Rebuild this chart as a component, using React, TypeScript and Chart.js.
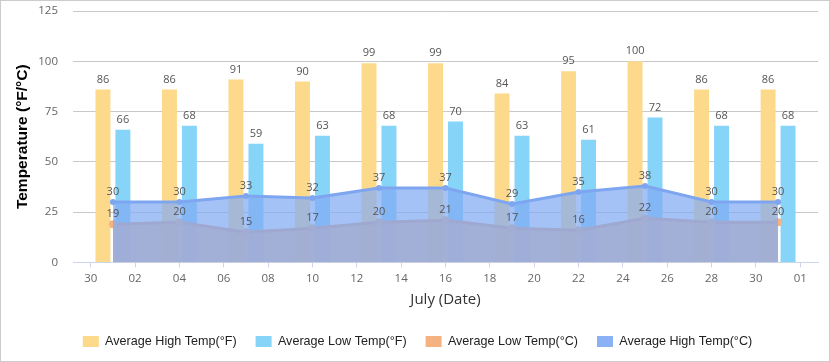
import React, { useEffect, useRef } from 'react';
import { Chart, registerables } from 'chart.js';

Chart.register(...registerables);

// ---- data ----
const days = [1, 4, 7, 10, 13, 16, 19, 22, 25, 28, 31];
const highF = [86, 86, 91, 90, 99, 99, 84, 95, 100, 86, 86];
const lowF = [66, 68, 59, 63, 68, 70, 63, 61, 72, 68, 68];
const lowC = [19, 20, 15, 17, 20, 21, 17, 16, 22, 20, 20];
const highC = [30, 30, 33, 32, 37, 37, 29, 35, 38, 30, 30];

const seriesLabels = [
  'Average High Temp(°F)',
  'Average Low Temp(°F)',
  'Average Low Temp(°C)',
  'Average High Temp(°C)',
];
const legendColors = ['#FDDA8B', '#87D4F9', '#F4B280', '#8AB0F5'];

const xTickValues = [0, 2, 4, 6, 8, 10, 12, 14, 16, 18, 20, 22, 24, 26, 28, 30, 32];
const xTickLabels = ['30', '02', '04', '06', '08', '10', '12', '14', '16', '18', '20', '22', '24', '26', '28', '30', '01'];
const yMin = 0;
const yMax = 125;
const yStep = 25;

const toXY = (vals: number[]) => days.map((d, i) => ({ x: d, y: vals[i] }));

const valueLabels = {
  id: 'valueLabels',
  afterDatasetsDraw(chart: any) {
    const ctx = chart.ctx;
    ctx.save();
    ctx.font = '11px "Open Sans"';
    ctx.fillStyle = '#555';
    ctx.textAlign = 'center';
    ctx.textBaseline = 'middle';
    chart.data.datasets.forEach((ds: any, i: number) => {
      const meta = chart.getDatasetMeta(i);
      meta.data.forEach((el: any, j: number) => {
        ctx.fillText(String(ds.data[j].y), el.x, el.y - 10);
      });
    });
    ctx.restore();
  },
};

const legendShift = {
  id: 'legendShift',
  afterLayout(chart: any) {
    if (chart.legend) {
      chart.legend.left += 8;
      chart.legend.right += 8;
    }
  },
};

export default function App() {
  const ref = useRef<HTMLCanvasElement>(null);

  useEffect(() => {
    document.body.style.margin = '0';
    const chart = new Chart(ref.current as HTMLCanvasElement, {
      type: 'bar',
      data: {
        datasets: [
          {
            type: 'bar',
            label: seriesLabels[0],
            data: toXY(highF),
            backgroundColor: '#FDDA8B',
            order: 3,
            categoryPercentage: 0.9,
            barPercentage: 0.75,
          } as any,
          {
            type: 'bar',
            label: seriesLabels[1],
            data: toXY(lowF),
            backgroundColor: '#87D4F9',
            order: 3,
            categoryPercentage: 0.9,
            barPercentage: 0.75,
          } as any,
          {
            type: 'line',
            label: seriesLabels[2],
            data: toXY(lowC),
            borderColor: 'rgb(228,162,118)',
            backgroundColor: 'rgba(244,178,128,0.85)',
            fill: 'origin',
            borderWidth: 3,
            pointRadius: 4,
            pointBackgroundColor: '#F4B280',
            pointBorderColor: '#F4B280',
            pointBorderWidth: 0,
            tension: 0,
            order: 2,
          } as any,
          {
            type: 'line',
            label: seriesLabels[3],
            data: toXY(highC),
            borderColor: 'rgb(126,166,240)',
            backgroundColor: 'rgba(130,170,242,0.72)',
            fill: 'origin',
            borderWidth: 3,
            pointRadius: 3,
            pointBackgroundColor: 'rgb(126,166,240)',
            pointBorderColor: 'rgb(126,166,240)',
            pointBorderWidth: 0,
            tension: 0,
            order: 1,
          } as any,
        ],
      },
      options: {
        responsive: false,
        animation: false,
        devicePixelRatio: 1,
        layout: { padding: { top: 10, right: 11, bottom: 3.25, left: 0 } },
        plugins: {
          legend: {
            position: 'bottom',
            labels: {
              boxWidth: 16,
              boxHeight: 11,
              padding: 19,
              color: '#222',
              font: { family: '"Liberation Sans", Arial, sans-serif', size: 12.6 },
              sort: (a: any, b: any) => a.datasetIndex - b.datasetIndex,
              generateLabels: (c: any) => {
                const items = (Chart.defaults.plugins.legend.labels as any).generateLabels(c);
                items.forEach((it: any) => {
                  it.fillStyle = legendColors[it.datasetIndex];
                  it.strokeStyle = 'rgba(0,0,0,0)';
                  it.lineWidth = 0;
                });
                return items;
              },
            },
          },
          tooltip: { enabled: false },
        },
        scales: {
          x: {
            type: 'linear',
            offset: false,
            min: -0.8,
            max: 32.8,
            afterBuildTicks: (axis: any) => {
              axis.ticks = xTickValues.map((v) => ({ value: v }));
            },
            afterFit: (axis: any) => {
              axis.height = 53.75;
            },
            grid: { offset: false, drawOnChartArea: false, drawTicks: true, tickLength: 5, color: '#ccd6eb' },
            border: { color: '#ccd6eb', width: 1 },
            ticks: {
              color: '#666',
              font: { family: '"Open Sans"', size: 11.5 },
              padding: 4,
              maxRotation: 0,
              autoSkip: false,
              callback: (_v: any, i: number) => xTickLabels[i],
            },
            title: {
              display: true,
              text: 'July (Date)',
              color: '#333',
              font: { family: '"Open Sans"', size: 15 },
              padding: { top: 0, bottom: 7.75 },
            },
          } as any,
          y: {
            min: yMin,
            max: yMax,
            afterFit: (axis: any) => {
              axis.width = 72;
              axis.paddingTop = 0;
              axis.paddingBottom = 0;
            },
            ticks: {
              stepSize: yStep,
              color: '#666',
              font: { family: '"Open Sans"', size: 11.5 },
              padding: 15,
            },
            grid: { color: '#c8c8c8', drawTicks: false },
            border: { display: false },
            title: {
              display: true,
              text: 'Temperature (°F/°C)',
              color: '#000',
              font: { family: '"Liberation Sans", Arial, sans-serif', size: 15.5, weight: 'bold' },
              padding: { top: 12, bottom: 0 },
            },
          } as any,
        },
      },
      plugins: [valueLabels, legendShift],
    } as any);
    return () => chart.destroy();
  }, []);

  return (
    <div
      style={{
        position: 'absolute',
        left: 0,
        top: 0,
        width: 830,
        height: 362,
        boxSizing: 'border-box',
        border: '1px solid #ccc',
        background: '#fff',
      }}
    >
      <canvas ref={ref} width={828} height={360} style={{ display: 'block', width: 828, height: 360 }} />
    </div>
  );
}
